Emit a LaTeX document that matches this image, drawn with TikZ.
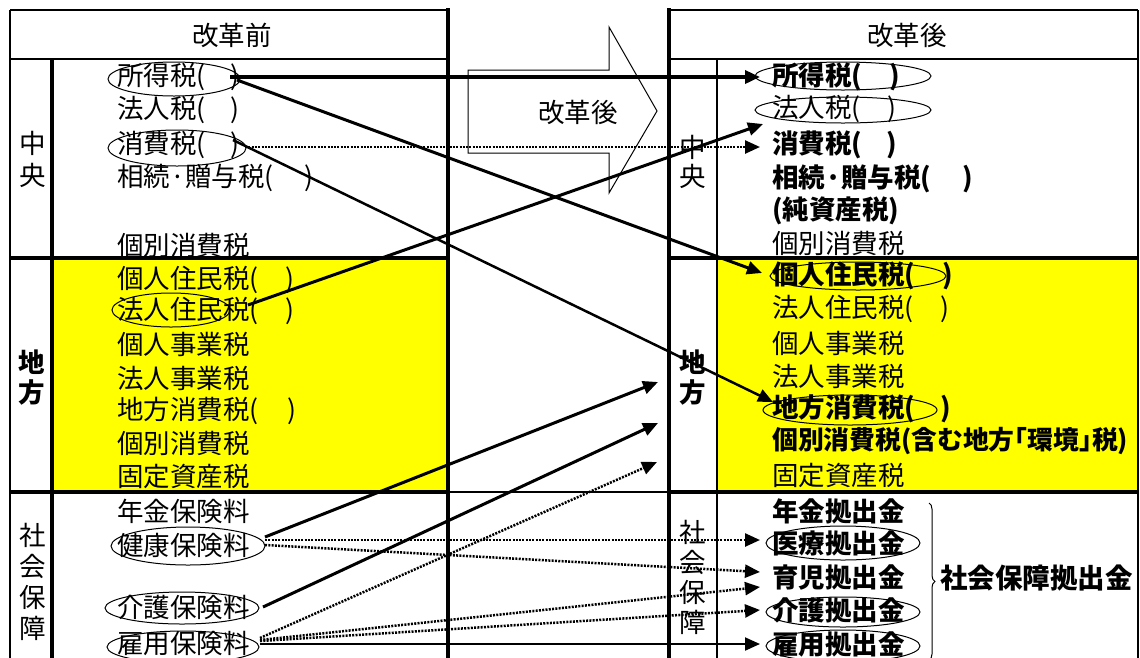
\documentclass[tikz,border=0pt]{standalone}
\usepackage{fontspec}
\setmainfont{Noto Sans CJK JP}
\usetikzlibrary{arrows.meta,shapes.geometric,decorations.pathreplacing}
\newcommand\fsz{\fontsize{26.5}{30}\selectfont}
\definecolor{hiyellow}{RGB}{255,255,0}
\begin{document}
\begin{tikzpicture}[x=1pt,y=-1pt,
  txt/.style={anchor=west,inner sep=0pt,font=\fsz},
  btxt/.style={anchor=west,inner sep=0pt,font=\fsz\bfseries},
  ctxt/.style={inner sep=0pt,font=\fsz},
  cbtxt/.style={inner sep=0pt,font=\fsz\bfseries},
  oval/.style={draw,ellipse,inner sep=0pt,line width=1pt},
  thickframe/.style={line width=4pt},
  thinframe/.style={line width=2pt},
  conn/.style={line width=3pt,-{Triangle[length=15pt,width=13pt]}},
  dconn/.style={line width=2.5pt,dash pattern=on 2pt off 1.3pt,-{Triangle[length=15pt,width=13pt]}},
]
\useasboundingbox (0,0) rectangle (1140,657);
% yellow areas
\fill[hiyellow] (52,258) rectangle (448,492);
\fill[hiyellow] (717,258) rectangle (1138,492);
% left table frame
\draw[thinframe] (10,10) -- (448,10);
\draw[thinframe] (10,10) -- (10,662);
\draw[thinframe] (10,59) -- (448,59);
\draw[thickframe] (52,59) -- (52,662);
\draw[thickframe] (448,8) -- (448,662);
\draw[thickframe] (10,258) -- (448,258);
\draw[thickframe] (10,492) -- (448,492);
% gap line
\draw[line width=2.5pt] (448,492) -- (669,492);
% right table frame
\draw[thinframe] (669,10) -- (1138,10);
\draw[thickframe] (669,8) -- (669,662);
\draw[thinframe] (669,59) -- (1138,59);
\draw[line width=1.5pt] (717,59) -- (717,662);
\draw[line width=2.5pt] (1138,10) -- (1138,662);
\draw[thickframe] (669,258) -- (1138,258);
\draw[thickframe] (669,492) -- (1138,492);
% headers
\node[ctxt] (hL) at (232,35) {改革前};
\node[ctxt] (hR) at (907,35) {改革後};
% block arrow
\draw[line width=1pt] (468,70) -- (609,70) -- (609,27) -- (657,111) -- (609,193) -- (609,153) -- (468,153) -- cycle;
\node[ctxt] (blk) at (578,112) {改革後};
% side labels left
\node[ctxt] (lc1) at (33,143) {中};
\node[ctxt] (lc2) at (33,175) {央};
\node[cbtxt] (ll1) at (32,362) {地};
\node[cbtxt] (ll2) at (32,392) {方};
\node[ctxt] (ls1) at (33,535) {社};
\node[ctxt] (ls2) at (33,566) {会};
\node[ctxt] (ls3) at (33,597) {保};
\node[ctxt] (ls4) at (33,628) {障};
% side labels right
\node[ctxt] (rc1) at (693,147) {中};
\node[ctxt] (rc2) at (693,176) {央};
\node[cbtxt] (rl1) at (693,362) {地};
\node[cbtxt] (rl2) at (693,392) {方};
\node[ctxt] (rs1) at (693,532) {社};
\node[ctxt] (rs2) at (693,562) {会};
\node[ctxt] (rs3) at (693,592) {保};
\node[ctxt] (rs4) at (693,622) {障};
% left texts
\node[txt] (L1) at (117,77) {所得税(\hspace{25pt})};
\node[txt] (L2) at (117,110) {法人税(\hspace{25pt})};
\node[txt] (L3) at (117,145) {消費税(\hspace{25pt})};
\node[txt] (L4) at (117,178) {相続·贈与税(\hspace{31pt})};
\node[txt] (L5) at (117,245) {個別消費税};
\node[txt] (L6) at (117,280) {個人住民税(\hspace{27pt})};
\node[txt] (L7) at (117,311) {法人住民税(\hspace{27pt})};
\node[txt] (L8) at (117,344) {個人事業税};
\node[txt] (L9) at (117,378) {法人事業税};
\node[txt] (L10) at (117,411) {地方消費税(\hspace{29pt})};
\node[txt] (L11) at (117,443) {個別消費税};
\node[txt] (L12) at (117,476) {固定資産税};
\node[txt] (L13) at (117,511) {年金保険料};
\node[txt] (L14) at (117,545) {健康保険料};
\node[txt] (L15) at (117,607) {介護保険料};
\node[txt] (L16) at (117,643) {雇用保険料};
% right texts
\node[btxt] (R1) at (772,77) {所得税(\hspace{27pt})};
\node[txt] (R2) at (772,109) {法人税(\hspace{27pt})};
\node[btxt] (R3) at (772,145) {消費税(\hspace{24pt})};
\node[btxt] (R4) at (772,179) {相続·贈与税(\hspace{31pt})};
\node[btxt] (R5) at (772,211) {(純資産税)};
\node[txt] (R6) at (772,243) {個別消費税};
\node[btxt] (R7) at (772,276) {個人住民税(\hspace{27pt})};
\node[txt] (R8) at (772,309) {法人住民税(\hspace{27pt})};
\node[txt] (R9) at (772,343) {個人事業税};
\node[txt] (R10) at (772,376) {法人事業税};
\node[btxt] (R11) at (772,409) {地方消費税(\hspace{25pt})};
\node[btxt,font=\fontsize{25.8}{30}\selectfont\bfseries] (R12) at (772,441) {個別消費税(含む地方｢環境｣税)};
\node[txt] (R13) at (772,475) {固定資産税};
\node[btxt] (R14) at (772,511) {年金拠出金};
\node[btxt] (R15) at (772,543) {医療拠出金};
\node[btxt] (R16) at (772,577) {育児拠出金};
\node[btxt] (R17) at (772,610) {介護拠出金};
\node[btxt] (R18) at (772,644) {雇用拠出金};
% brace and label
\draw[line width=1pt,decorate,decoration={brace,amplitude=6pt}] (929,503) -- (929,660);
\node[btxt,font=\fontsize{27.5}{30}\selectfont\bfseries] (Rsum) at (940,578) {社会保障拠出金};
% ovals left
\node[oval,minimum width=132pt,minimum height=34pt] (oL1) at (174,79) {};
\node[oval,minimum width=138pt,minimum height=36pt] (oL3) at (177,148) {};
\node[oval,minimum width=118pt,minimum height=34pt] (oL7) at (171,310) {};
\node[oval,minimum width=154pt,minimum height=38pt] (oL14) at (188,546) {};
\node[oval,minimum width=154pt,minimum height=32pt] (oL15) at (182,608) {};
\node[oval,minimum width=152pt,minimum height=32pt] (oL16) at (183,647) {};
% ovals right
\node[oval,minimum width=176pt,minimum height=28pt] (oR1) at (843,76) {};
\node[oval,minimum width=176pt,minimum height=26pt] (oR2) at (843,110) {};
\node[oval,minimum width=176pt,minimum height=28pt] (oR7) at (858,276) {};
\node[oval,minimum width=174pt,minimum height=30pt] (oR11) at (850,410) {};
\node[oval,minimum width=154pt,minimum height=34pt] (oR15) at (843,543) {};
\node[oval,minimum width=154pt,minimum height=30pt] (oR17) at (843,612) {};
\node[oval,minimum width=154pt,minimum height=32pt] (oR18) at (843,646) {};
% connector end points
\coordinate (a1s) at (230,77);  \coordinate (a1e) at (760,77);
\coordinate (a2s) at (237,80);  \coordinate (a2e) at (762,273);
\coordinate (a3s) at (245,147); \coordinate (a3e) at (760,147);
\coordinate (a4s) at (233,140); \coordinate (a4e) at (773,402);
\coordinate (a5s) at (248,305); \coordinate (a5e) at (763,124);
\coordinate (a6s) at (265,537); \coordinate (a6e) at (658,382);
\coordinate (a7s) at (263,607); \coordinate (a7e) at (658,423);
\coordinate (a8s) at (260,638); \coordinate (a8e) at (657,462);
\coordinate (a9s) at (265,540); \coordinate (a9e) at (760,540);
\coordinate (a10s) at (265,545); \coordinate (a10e) at (760,572);
\coordinate (a11s) at (260,640); \coordinate (a11e) at (760,587);
\coordinate (a12s) at (260,641); \coordinate (a12e) at (760,610);
\coordinate (a13s) at (260,644); \coordinate (a13e) at (760,644);
% connectors
\draw[conn,line width=3.5pt] (a1s) -- (a1e);
\draw[conn] (a2s) -- (a2e);
\draw[dconn] (a3s) -- (a3e);
\draw[conn,line width=2.5pt] (a4s) -- (a4e);
\draw[conn] (a5s) -- (a5e);
\draw[conn] (a6s) -- (a6e);
\draw[conn] (a7s) -- (a7e);
\draw[dconn] (a8s) -- (a8e);
\draw[dconn] (a9s) -- (a9e);
\draw[dconn] (a10s) -- (a10e);
\draw[dconn] (a11s) -- (a11e);
\draw[dconn] (a12s) -- (a12e);
\draw[conn,line width=2pt] (a13s) -- (a13e);
\end{tikzpicture}
\end{document}
